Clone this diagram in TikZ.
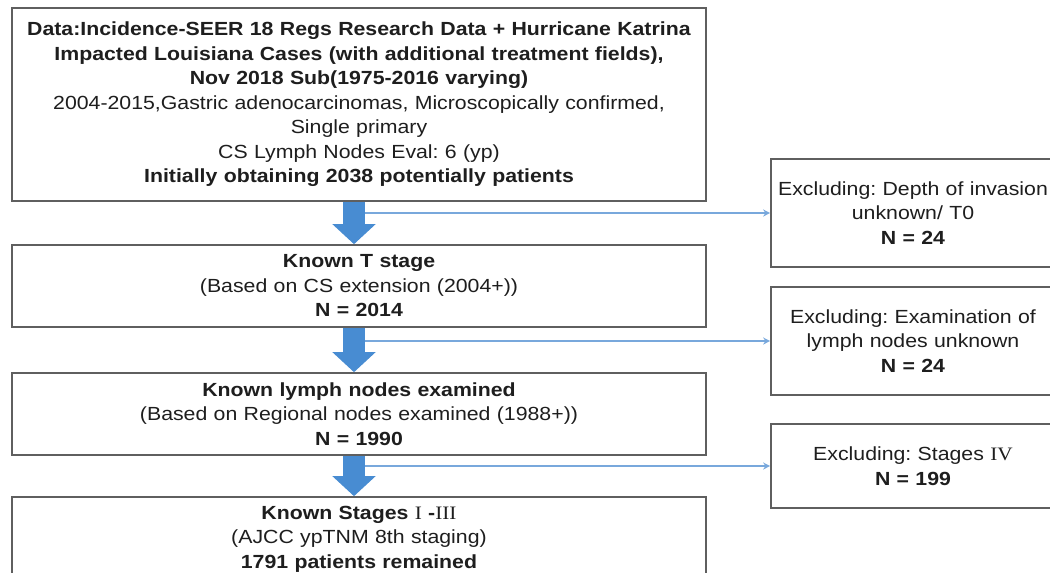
\documentclass[tikz,border=0pt]{standalone}
\usepackage{fontspec}
\setmainfont[FakeStretch=1.12]{Liberation Sans}
\newfontfamily\romnum[FakeStretch=1.12]{Liberation Serif}
\usetikzlibrary{arrows.meta}
\definecolor{arrowblue}{RGB}{72,140,210}
\definecolor{lineblue}{RGB}{120,168,220}
\definecolor{boxgray}{RGB}{95,95,95}
\definecolor{inkgray}{RGB}{30,30,30}
\tikzset{
  box/.style={draw=boxgray, line width=1.6pt, fill=white, inner sep=0pt,
    align=center, text=inkgray, font=\fontsize{19}{24.5}\selectfont},
  bigarrow/.style={draw=arrowblue, line width=22pt,
    -{Triangle[width=42pt,length=20pt]}},
  thinarrow/.style={draw=lineblue, line width=1.2pt,
    -{Stealth[length=7pt,width=7pt,open]}}
}
\frenchspacing
\begin{document}
\begin{tikzpicture}[x=1pt,y=-1pt]
        \useasboundingbox (0,0) rectangle (1050,573);
        \clip (0,0) rectangle (1050,573);

        % main column
        \node[box, minimum width=694, minimum height=193, text width=690pt] (data) at (359,104.5)
            {\textbf{Data:Incidence-SEER 18 Regs Research Data + Hurricane Katrina}\\
             \textbf{Impacted Louisiana Cases (with additional treatment fields),}\\
             \textbf{Nov 2018 Sub(1975-2016 varying)}\\
             2004-2015,Gastric adenocarcinomas, Microscopically confirmed,\\
             Single primary\\
             CS Lymph Nodes Eval: 6 (yp)\\
             \textbf{Initially obtaining 2038 potentially patients}};

        \node[box, minimum width=694, minimum height=82, text width=690pt] (tstage) at (359,286)
            {\textbf{Known T stage}\\
             (Based on CS extension (2004+))\\
             \textbf{N = 2014}};

        \node[box, minimum width=694, minimum height=82, text width=690pt] (lymph) at (359,414)
            {\textbf{Known lymph nodes examined}\\
             (Based on Regional nodes examined (1988+))\\
             \textbf{N = 1990}};

        \node[box, minimum width=694, minimum height=84, text width=690pt] (stages) at (359,539)
            {\textbf{Known Stages {\romnum\mdseries I} -{\romnum\mdseries III}}\\
             (AJCC ypTNM 8th staging)\\
             \textbf{1791 patients remained}};

        % excluded
        \node[box, minimum width=284, minimum height=108, text width=280pt] (exT) at (913,213)
            {Excluding: Depth of invasion\\
             unknown/ T0\\
             \textbf{N = 24}};

        \node[box, minimum width=284, minimum height=108, text width=280pt] (exLN) at (913,341)
            {Excluding: Examination of\\
             lymph nodes unknown\\
             \textbf{N = 24}};

        \node[box, minimum width=284, minimum height=84, text width=280pt] (exIV) at (913,466)
            {Excluding: Stages {\romnum IV}\\
             \textbf{N = 199}};

        % flow arrows
        \draw[bigarrow] ([xshift=-5pt]data.south) -- ([xshift=-5pt]tstage.north);
        \draw[bigarrow] ([xshift=-5pt]tstage.south) -- ([xshift=-5pt]lymph.north);
        \draw[bigarrow] ([xshift=-5pt]lymph.south) -- ([xshift=-5pt]stages.north);

        \coordinate (shaft) at (365,0);
        \draw[thinarrow] (exT.west -| shaft) -- (exT.west);
        \draw[thinarrow] (exLN.west -| shaft) -- (exLN.west);
        \draw[thinarrow] (exIV.west -| shaft) -- (exIV.west);
\end{tikzpicture}
\end{document}
